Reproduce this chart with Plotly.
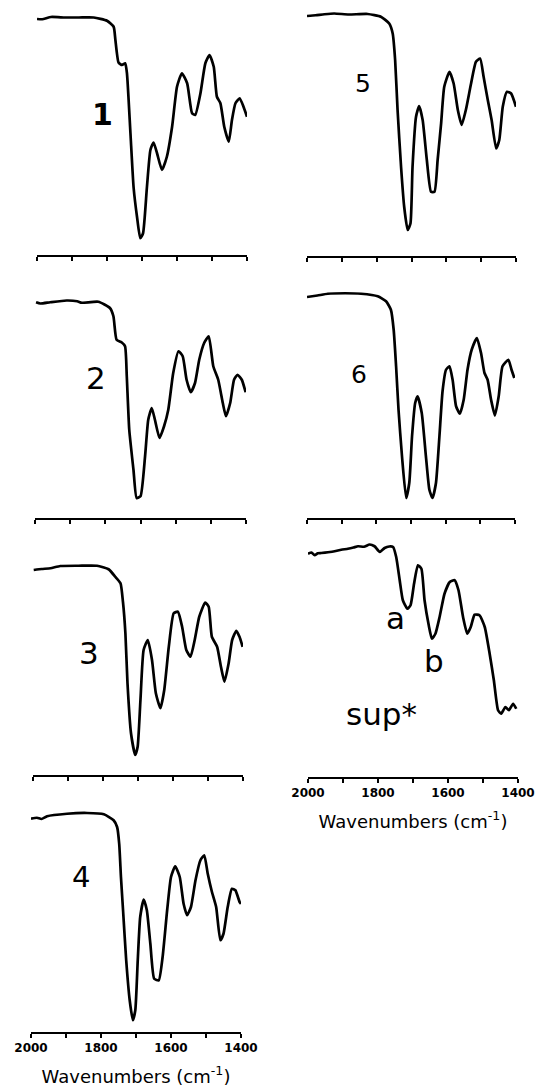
import plotly.graph_objects as go

# ---------------- data (wavenumber cm^-1, transmittance a.u.) ----------------
wn_1 = [2000, 1985, 1960, 1920, 1880, 1838, 1800, 1781, 1776, 1767, 1757, 1748, 1743, 1733, 1724, 1714, 1705, 1697,
        1686, 1676, 1667, 1657, 1643, 1629, 1614, 1600, 1586, 1571, 1557, 1548, 1533, 1519, 1507, 1495, 1486,
        1476, 1465, 1452, 1443, 1433, 1421, 1410, 1400]
tr_1 = [94.4, 94.3, 95.2, 95, 95, 95, 93.7, 91.3, 86, 77, 76, 76.7, 72.7, 48.7, 27, 15, 6.7, 8.7,
        27, 42, 45, 40.7, 34, 39.3, 51.3, 67.3, 72.7, 68.7, 56.7, 56, 64.7, 76.7, 80, 75.3, 63.3,
        60.7, 51.3, 45.3, 54, 60.7, 62.7, 59.3, 55.3]

wn_2 = [1997, 1985, 1957, 1910, 1880, 1867, 1820, 1787, 1777, 1768, 1754, 1744, 1739, 1732, 1720, 1711, 1700, 1687, 1678,
        1668, 1659, 1646, 1633, 1621, 1607, 1592, 1580, 1569, 1557, 1545, 1533, 1519, 1506, 1493, 1479, 1466,
        1457, 1445, 1434, 1424, 1412, 1401]
tr_2 = [86.3, 85.8, 86.3, 87, 86.7, 86.1, 86.5, 84, 80.7, 71.3, 70.3, 68.7, 56.7, 35.3, 19.3, 8, 8.7, 24.7, 39.3,
        44, 39.3, 32, 36.7, 43.3, 58, 66.7, 64.7, 55.3, 50.3, 54, 63.3, 70, 72.7, 60.7, 55.3, 46,
        40.7, 46, 55.3, 57.3, 55.3, 50.3]

wn_3 = [1998, 1975, 1950, 1922, 1870, 1817, 1784, 1765, 1750, 1743, 1736, 1730, 1720, 1708, 1701, 1693, 1684, 1672,
        1660, 1649, 1636, 1625, 1612, 1598, 1586, 1574, 1562, 1550, 1538, 1525, 1508, 1498, 1489, 1474, 1463,
        1453, 1441, 1431, 1419, 1410, 1401]
tr_3 = [82, 82.4, 82.7, 83.6, 83.7, 83.7, 82.3, 79.3, 76.7, 69.3, 56.7, 36.7, 16.7, 8, 11.3, 30, 50, 54,
        46, 32.7, 26.7, 34, 51.3, 64.7, 65.3, 59.3, 50, 47.3, 54, 63.3, 69, 67.3, 55.3, 51.3, 43.3,
        37.3, 44.7, 54, 57.7, 55.3, 51.3]

wn_4 = [2000, 1983, 1970, 1954, 1897, 1840, 1792, 1764, 1754, 1748, 1743, 1737, 1728, 1718, 1709, 1702, 1695, 1688,
        1678, 1669, 1659, 1648, 1635, 1624, 1611, 1600, 1588, 1575, 1564, 1554, 1543, 1530, 1516, 1505, 1495,
        1483, 1471, 1459, 1450, 1438, 1426, 1416, 1404, 1400]
tr_4 = [85.3, 85.7, 85.2, 86.3, 87.3, 87.6, 87.1, 84.7, 82, 75.3, 62, 48.7, 28.7, 12.7, 4.7, 8.7, 28.7, 46,
        53, 48.7, 35.3, 21.3, 20.7, 30, 48.7, 62, 66.3, 62, 51.3, 46.7, 50, 60.7, 68.7, 70.7, 63.3,
        56, 50, 36.7, 39.3, 50, 57.3, 56.7, 52, 51.3]

wn_5 = [2000, 1975, 1950, 1922, 1880, 1826, 1788, 1764, 1754, 1747, 1740, 1730, 1721, 1711, 1703, 1697, 1687, 1678,
        1668, 1656, 1644, 1634, 1625, 1615, 1606, 1591, 1579, 1567, 1556, 1544, 1529, 1515, 1503, 1493, 1481,
        1470, 1457, 1448, 1438, 1426, 1414, 1400]
tr_5 = [96, 96.3, 96.7, 97, 96.6, 96.8, 95.7, 93, 89, 78.4, 58.4, 35.7, 19.7, 10.4, 13, 35.7, 55.7, 60,
        54.4, 38.4, 25.7, 25.7, 38.4, 53, 67.7, 73.7, 69, 58.4, 52.4, 58.4, 69, 77.7, 79, 71.7, 62.4,
        54.4, 43, 46.4, 59.7, 65.7, 65, 59.7]

wn_6 = [2000, 1970, 1940, 1890, 1844, 1796, 1772, 1758, 1750, 1743, 1736, 1726, 1714, 1705, 1697, 1688, 1681, 1669,
        1657, 1647, 1638, 1628, 1618, 1609, 1599, 1589, 1580, 1570, 1559, 1548, 1537, 1525, 1510, 1498, 1488,
        1479, 1469, 1458, 1447, 1436, 1419, 1410, 1402]
tr_6 = [88.4, 89, 89.7, 89.9, 89.7, 88.7, 86.7, 83.3, 75.3, 60.7, 43.3, 24.7, 8, 14, 32.7, 46, 48.7, 42,
        24.7, 11.3, 8, 14, 32.7, 50.7, 59.3, 60.7, 55.3, 44.7, 41.7, 47.3, 59.3, 67.3, 72, 66, 58,
        55.3, 47.3, 41, 48.7, 60.7, 63.3, 59.3, 56]

wn_sup = [2000, 1990, 1981, 1972, 1962, 1943, 1924, 1905, 1886, 1870, 1857, 1840, 1824, 1810, 1795, 1781, 1768,
          1757, 1748, 1738, 1729, 1716, 1707, 1697, 1686, 1676, 1667, 1655, 1646, 1636, 1624, 1610, 1595, 1581,
          1570, 1557, 1545, 1535, 1524, 1510, 1495, 1481, 1469, 1457, 1448, 1436, 1426, 1414, 1405]
tr_sup = [89.3, 89.8, 88.7, 89.5, 89.6, 89.9, 90.3, 90.9, 91.3, 91.8, 92.3, 92.1, 93, 92.3, 90, 91.6, 92.2,
          92, 88, 78.7, 70.7, 67.3, 68.7, 77.3, 84.7, 83.3, 70.7, 60.7, 55.3, 57.3, 64, 73.3, 78, 78.7,
          74.7, 64, 57.3, 60, 64.9, 64.7, 60, 49.3, 38.7, 26.7, 25.3, 28, 26.7, 29.3, 27.3]

# panel labels (text, wavenumber, transmittance)
label_text = ["1", "2", "3", "4", "5", "6", "sup*"]
label_wn = [1814, 1827, 1840, 1857, 1839, 1850, 1791]
label_tr = [56.4, 56, 48.8, 62, 68.8, 57.6, 25.2]
peak_text = ["a", "b"]
peak_wn = [1749, 1640]
peak_tr = [63.6, 46.4]

major_ticks = [2000, 1800, 1600, 1400]
major_text = ["2000", "1800", "1600", "1400"]
minor_ticks = [1900, 1700, 1500]
axis_title = "Wavenumbers (cm<sup>-1</sup>)"

# ---------------- layout geometry (pixels) ----------------
W, H = 536, 1087
PANEL_H = 250
# (x_left, x_right, axis_y) per panel
geom = [
    (37, 247, 255),
    (35, 246, 518),
    (33, 243, 775),
    (31, 241, 1032),
    (307, 516, 256),
    (307, 515, 518),
    (308, 518, 777),
]
series = [(wn_1, tr_1), (wn_2, tr_2), (wn_3, tr_3), (wn_4, tr_4), (wn_5, tr_5), (wn_6, tr_6), (wn_sup, tr_sup)]
show_labels = [False, False, False, True, False, False, True]
label_font = [
    dict(size=30, weight="bold"), dict(size=31), dict(size=31), dict(size=29),
    dict(size=25), dict(size=25), dict(size=31),
]

fig = go.Figure()
layout = dict(
    width=W, height=H, autosize=False, margin=dict(l=0, r=0, t=0, b=0, pad=0, autoexpand=False),
    paper_bgcolor="white", plot_bgcolor="white", showlegend=False,
    font=dict(family="DejaVu Sans", color="black"),
)
annotations = []
for i, ((wn, tr), (xl, xr, ay)) in enumerate(zip(series, geom)):
    n = "" if i == 0 else str(i + 1)
    fig.add_trace(go.Scatter(
        x=wn, y=tr, mode="lines", xaxis="x" + n, yaxis="y" + n,
        line=dict(color="black", width=2.7, shape="spline", smoothing=0.5),
        hoverinfo="skip",
    ))
    xa = dict(
        domain=[xl / W, xr / W], anchor="y" + n, range=[2000, 1400], autorange=False,
        automargin=False,
        showline=True, linecolor="black", linewidth=2, mirror=False,
        ticks="outside", ticklen=4, tickwidth=2, tickcolor="black",
        tickmode="array", tickvals=major_ticks, ticktext=major_text,
        minor=dict(ticks="outside", ticklen=4, tickwidth=2, tickcolor="black",
                   tickmode="array", tickvals=minor_ticks, showgrid=False),
        showticklabels=show_labels[i], showgrid=False, zeroline=False,
        tickfont=dict(family="DejaVu Sans", size=12, weight="bold", color="black"),
    )
    if show_labels[i]:
        xa["title"] = dict(text=axis_title, font=dict(family="DejaVu Sans", size=18, color="black"), standoff=16)
    ya = dict(
        domain=[(H - ay) / H, (H - ay + PANEL_H) / H], anchor="x" + n,
        range=[0, 100], autorange=False, visible=False, automargin=False,
    )
    layout["xaxis" + n] = xa
    layout["yaxis" + n] = ya
    f = dict(family="DejaVu Sans", color="black")
    f.update(label_font[i])
    annotations.append(dict(
        text=label_text[i], x=label_wn[i], y=label_tr[i], xref="x" + n, yref="y" + n,
        showarrow=False, font=f, xanchor="center", yanchor="middle",
    ))

for t, x, y in zip(peak_text, peak_wn, peak_tr):
    annotations.append(dict(
        text=t, x=x, y=y, xref="x7", yref="y7", showarrow=False,
        font=dict(family="DejaVu Sans", size=31, color="black"), xanchor="center", yanchor="middle",
    ))

layout["annotations"] = annotations
fig.update_layout(**layout)
fig.write_html(
    "out.html",
    config={"responsive": False, "displayModeBar": False},
    post_script="document.body.style.margin='0';document.body.style.padding='0';",
)
